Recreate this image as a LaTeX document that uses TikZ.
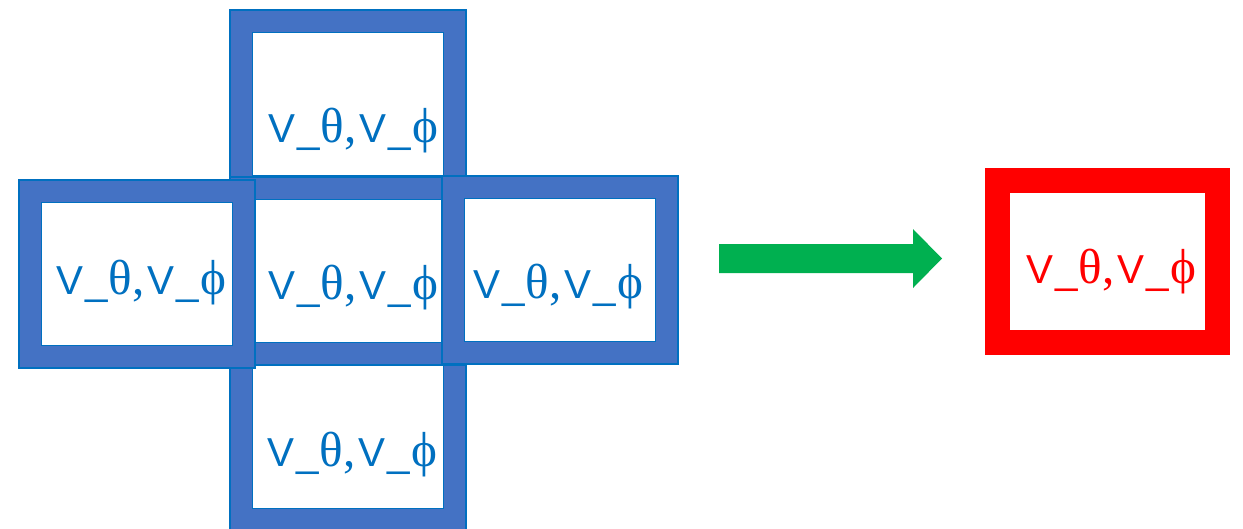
\documentclass[tikz,border=0pt]{standalone}
\usepackage{fontspec}
\setmainfont{Liberation Serif}
\setsansfont{Liberation Sans}
\newfontfamily\greekserif{Liberation Serif}
\usetikzlibrary{positioning}

\definecolor{bandblue}{HTML}{4472C4}
\definecolor{edgeblue}{HTML}{0070C0}
\definecolor{arrowgreen}{HTML}{00B050}

\newcommand{\sfpart}{{\fontsize{23}{28}\selectfont\sffamily V\kern1.2pt\_}}
\newcommand{\gk}[1]{{\greekserif\fontsize{28}{32}\selectfont\kern0.6pt #1}}
\newcommand{\vpair}{\sfpart\gk{θ,}\kern1.5pt\sfpart\gk{ϕ}}

\begin{document}
\begin{tikzpicture}[x=0.02cm,y=-0.02cm]
\tikzset{
  cellbox/.style={rectangle,fill=white,draw=edgeblue,line width=0.6pt,double=bandblue,double distance=0.42cm,minimum width=4.28cm,minimum height=3.32cm,inner sep=0pt},
  outbox/.style={rectangle,fill=white,draw=red,line width=0.5cm,minimum width=4.4cm,minimum height=3.24cm,inner sep=0pt},
  celltext/.style={anchor=base west,inner sep=0pt,text=edgeblue},
  outtext/.style={anchor=base west,inner sep=0pt,text=red}
}
\useasboundingbox (0,0) rectangle (1243,528);
% neighbour cells
\node[cellbox] (c_top) at (348,104) {};
\node[cellbox] (c_bot) at (348,437) {};
\node[cellbox] (c_mid) at (348,271) {};
\node[cellbox] (c_left) at (137,274) {};
\node[cellbox] (c_right) at (560,270) {};
\node[celltext] (t_top) at (268,142) {\vpair};
\node[celltext] (t_bot) at (267,466) {\vpair};
\node[celltext] (t_mid) at (268,299) {\vpair};
\node[celltext] (t_left) at (56,294) {\vpair};
\node[celltext] (t_right) at (473,298) {\vpair};
% block arrow
\fill[arrowgreen] (719,244) -- (913,244) -- (913,229) -- (942,258.5) -- (913,288) -- (913,273) -- (719,273) -- cycle;
% result cell
\node[outbox] (c_out) at (1107.5,261.5) {};
\node[outtext] (t_out) at (1026,283) {\vpair};
\end{tikzpicture}
\end{document}
